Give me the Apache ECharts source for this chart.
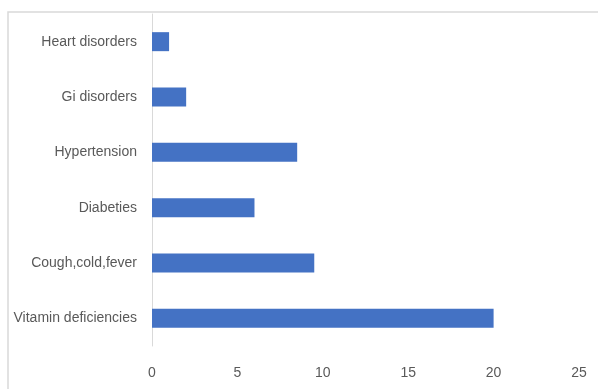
<!DOCTYPE html>
<html>
<head>
<meta charset="utf-8">
<script src="https://cdn.jsdelivr.net/npm/echarts@6/dist/echarts.min.js"></script>
<style>
  html, body { margin: 0; padding: 0; background: #fff; }
  #main { width: 598px; height: 389px; }
</style>
</head>
<body>
<div id="main"></div>
<script>
const categories = ['Vitamin deficiencies', 'Cough,cold,fever', 'Diabeties', 'Hypertension', 'Gi disorders', 'Heart disorders'];
const counts = [20, 9.5, 6, 8.5, 2, 1];
const xTicks = [0, 5, 10, 15, 20, 25];

const chart = echarts.init(document.querySelector('#main'));
const labelFont = '"Liberation Sans", Arial, sans-serif';

let option = {
    animation: false,
    backgroundColor: '#fff',
    graphic: [
        {
            type: 'polyline',
            shape: { points: [[8, 389], [8, 12], [598, 12]] },
            style: { stroke: '#d9d9d9', lineWidth: 1.5, fill: null }
        }
    ],
    grid: {
        left: 152,
        right: 19,
        top: 14,
        bottom: 43,
        containLabel: false,
        outerBoundsMode: 'none'
    },
    xAxis: {
        type: 'value',
        min: xTicks[0],
        max: xTicks[xTicks.length - 1],
        interval: 5,
        splitLine: { show: false },
        axisLine: { show: false },
        axisTick: { show: false },
        axisLabel: {
            color: '#595959',
            fontFamily: labelFont,
            fontSize: 14,
            margin: 20
        }
    },
    yAxis: {
        type: 'category',
        data: categories,
        axisLine: { show: true, lineStyle: { color: '#d9d9d9', width: 1 } },
        axisTick: { show: false },
        axisLabel: {
            color: '#595959',
            fontFamily: labelFont,
            fontSize: 14,
            margin: 15
        }
    },
    series: [
        {
            type: 'bar',
            data: counts,
            barWidth: 19,
            itemStyle: { color: '#4472C4' }
        }
    ]
};

chart.setOption(option);
</script>
</body>
</html>
